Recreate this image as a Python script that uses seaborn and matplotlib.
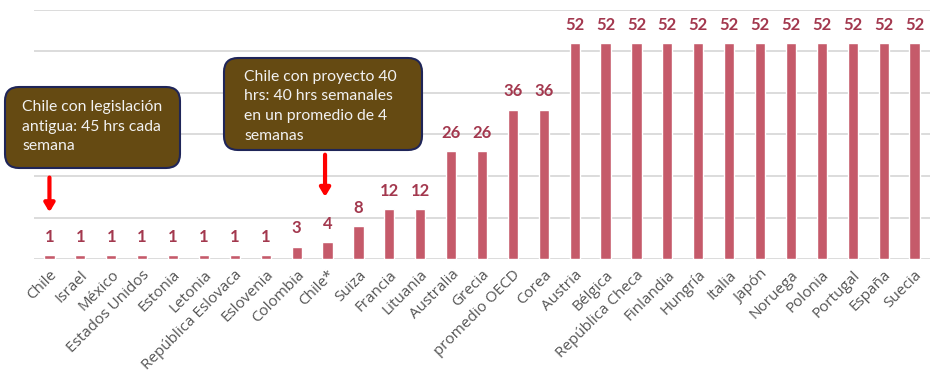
import matplotlib
matplotlib.use('Agg')
import matplotlib.pyplot as plt
import seaborn as sns
from matplotlib.patches import FancyBboxPatch

BAR_COLOR = '#C55A6A'
LABEL_COLOR = '#A3384E'
GRID_COLOR = '#D9D9D9'
TICK_COLOR = '#555555'
BOX_FILL = '#654A12'
BOX_EDGE = '#1F2558'

countries = ['Chile', 'Israel', 'México', 'Estados Unidos', 'Estonia', 'Letonia',
             'República Eslovaca', 'Eslovenia', 'Colombia', 'Chile*', 'Suiza',
             'Francia', 'Lituania', 'Australia', 'Grecia', 'promedio OECD', 'Corea',
             'Austria', 'Bélgica', 'República Checa', 'Finlandia', 'Hungría',
             'Italia', 'Japón', 'Noruega', 'Polonia', 'Portugal', 'España', 'Suecia']
values = [1, 1, 1, 1, 1, 1, 1, 1, 3, 4, 8, 12, 12, 26, 26, 36, 36,
          52, 52, 52, 52, 52, 52, 52, 52, 52, 52, 52, 52]

note_old = 'Chile con legislación\nantigua: 45 hrs cada\nsemana'
note_new = 'Chile con proyecto 40\nhrs: 40 hrs semanales\nen un promedio de 4\nsemanas'

sns.set_style('white')
plt.rcParams['font.family'] = ['Lato', 'DejaVu Sans']

fig = plt.figure(figsize=(9.3, 3.83), dpi=100)
ax = fig.add_axes([34 / 930, 124 / 383, 896 / 930, 249 / 383])

sns.barplot(x=countries, y=values, color=BAR_COLOR, saturation=1, width=0.33, ax=ax, zorder=3)

ax.set_ylim(0, 60)
ax.set_xlim(-0.5, len(countries) - 0.5)
ax.set_yticks(range(0, 61, 10))
ax.yaxis.grid(True, color=GRID_COLOR, linewidth=1.3, zorder=0)
ax.set_yticklabels([])
ax.tick_params(axis='y', length=0)
ax.tick_params(axis='x', length=0, pad=6)
for s in ['top', 'right', 'left', 'bottom']:
    ax.spines[s].set_visible(False)
ax.set_xlabel('')
ax.set_ylabel('')
for lbl in ax.get_xticklabels():
    lbl.set_rotation(45)
    lbl.set_ha('right')
    lbl.set_rotation_mode('anchor')
    lbl.set_fontsize(11)
    lbl.set_family(['Open Sans', 'DejaVu Sans'])
    lbl.set_color(TICK_COLOR)

# value labels above each bar
for i, v in enumerate(values):
    ax.annotate(str(v), (i, v), xytext=(0, 9.5), textcoords='offset points',
                ha='center', va='baseline', fontsize=12, fontweight='bold',
                color=LABEL_COLOR)

# callout boxes, placed in figure pixels (converted to inches)
def callout(x0, y0, x1, y1, text, tx, ty):
    box = FancyBboxPatch((x0 / 100, (383 - y1) / 100), (x1 - x0) / 100, (y1 - y0) / 100,
                         boxstyle='round,pad=0,rounding_size=0.14',
                         facecolor=BOX_FILL, edgecolor=BOX_EDGE, linewidth=1.5,
                         transform=fig.dpi_scale_trans, zorder=5)
    fig.patches.append(box)
    fig.text(tx / 930, 1 - ty / 383, text, ha='left', va='top', fontsize=11.3,
             color='#F2F2F2', linespacing=1.5, zorder=6)

callout(5, 87, 180, 168, note_old, 22, 100)
callout(224, 58, 422, 150, note_new, 244, 70)

arrow = dict(arrowstyle='-|>,head_length=0.5,head_width=0.3', color='#FF0000', lw=3)
ax.annotate('', xy=(0, 10.6), xytext=(0, 20.3), arrowprops=arrow, annotation_clip=False)
ax.annotate('', xy=(8.92, 14.3), xytext=(8.92, 25.8), arrowprops=arrow, annotation_clip=False)

fig.savefig('out.png', dpi=100)
